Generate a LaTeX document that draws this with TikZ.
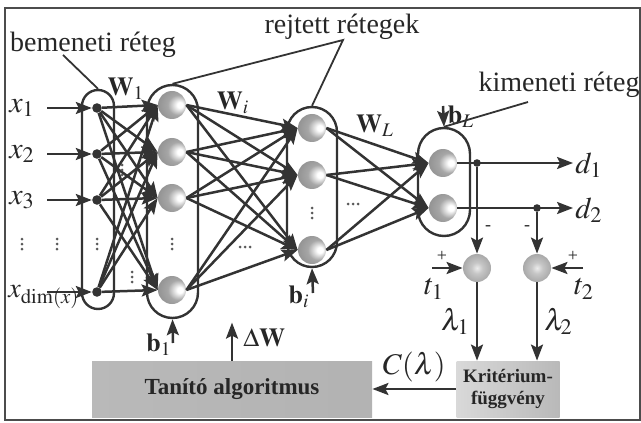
\documentclass[tikz,border=0pt]{standalone}
\usepackage{mathptmx}
\usepackage[no-math]{fontspec}
\setmainfont{Liberation Serif}
\usetikzlibrary{arrows.meta, positioning}

\pgfdeclareradialshading{neuronshade}{\pgfqpoint{16bp}{0bp}}{color(0bp)=(white); color(5bp)=(white); color(18bp)=(gray!70); color(36bp)=(gray!90); color(50bp)=(black!75)}
\pgfdeclareradialshading{sumshade}{\pgfqpoint{0bp}{0bp}}{color(0bp)=(gray!15); color(10bp)=(gray!45); color(30bp)=(gray!75); color(50bp)=(black!75)}

\newcommand{\vdotsat}[2]{\foreach \k in {-5,0,5} {\fill[black!65] (#1,#2+\k) circle (0.75pt);}}
\newcommand{\hdotsat}[2]{\foreach \k in {-5,0,5} {\fill[black!65] (#1+\k,#2) circle (0.75pt);}}

\begin{document}
\begin{tikzpicture}[
  x=0.5pt, y=-0.5pt,
  wire/.style={draw=black!80, line width=1.25pt},
  layerbox/.style={rectangle, draw=black!80, line width=1.2pt, rounded corners=#1, inner sep=0pt},
  neuron/.style={circle, shading=neuronshade, minimum size=14pt, inner sep=0pt},
  sumnode/.style={circle, shading=sumshade, minimum size=14pt, inner sep=0pt},
  indot/.style={circle, fill=black!80, minimum size=4.8pt, inner sep=0pt},
  txt/.style={font=\fontsize{14}{16}\selectfont, text=black!85, inner sep=1pt},
  mlbl/.style={font=\fontsize{15}{17}\selectfont, text=black!85, inner sep=1pt},
  wlbl/.style={font=\fontsize{13}{15}\selectfont, text=black!85, inner sep=1pt},
  sgn/.style={font=\fontsize{9}{9}\selectfont, text=black!85, inner sep=0pt},
  trainbox/.style={rectangle, shading=axis, left color=gray!55, middle color=gray!22, right color=gray!60, minimum width=140pt, minimum height=28pt, font=\bfseries\fontsize{11.5}{13}\selectfont, text=black!85},
  critbox/.style={rectangle, shading=axis, left color=gray!30, middle color=gray!25, right color=gray!55, minimum width=49pt, minimum height=28pt, align=center, font=\bfseries\fontsize{9.5}{11}\selectfont, text=black!85},
  >={Stealth[length=8pt,width=6pt,inset=1.5pt]}
]
  \useasboundingbox (0,0) rectangle (641,422);
  \draw[black!70, line width=0.8pt] (5,8) rectangle (640,420);

  % layers
  \node[layerbox=8pt, minimum width=16pt, minimum height=109.5pt] (L0) at (98,199.5) {};
  \node[layerbox=12.75pt, minimum width=25.5pt, minimum height=116.5pt] (L1) at (172.5,201.5) {};
  \node[layerbox=12.5pt, minimum width=25pt, minimum height=80pt] (L2) at (312,187) {};
  \node[layerbox=13pt, minimum width=26pt, minimum height=54pt] (L3) at (444,182) {};

  % inputs
  \foreach \y [count=\i] in {108,154,200,292} {
    \node[indot] (x\i) at (97,\y) {};
    \coordinate (in\i) at (47,\y);
    \draw[wire,->] (in\i) -- (x\i);
  }
  \node[mlbl] (lx1) at (22,108) {$x_1$};
  \node[mlbl] (lx2) at (22,154) {$x_2$};
  \node[mlbl] (lx3) at (22,200) {$x_3$};
  \node[mlbl, anchor=west, font=\fontsize{14}{16}\selectfont] (lx4) at (6,297) {$x_{\dim(x)}$};

  % neurons
  \foreach \y [count=\i] in {105,152,198,290}
    \node[neuron] (a\i) at (172,\y) {};
  \foreach \y [count=\i] in {128,175,250}
    \node[neuron] (b\i) at (312,\y) {};
  \foreach \y [count=\i] in {163,208}
    \node[neuron] (c\i) at (443,\y) {};

  % weights
  \foreach \i in {1,...,4}
    \foreach \j in {1,...,4}
      \draw[wire,->] (x\i) -- (a\j.west);
  \foreach \i in {1,...,4}
    \foreach \j in {1,...,3}
      \draw[wire,->] (a\i.east) -- (b\j.west);
  \foreach \i in {1,...,3}
    \foreach \j in {1,...,2}
      \draw[wire,->] (b\i.east) -- (c\j.west);

  % dots
  \foreach \x in {22,57,97,172} {\vdotsat{\x}{244}}
  \vdotsat{122}{170}
  \vdotsat{132}{277}
  \vdotsat{312}{213}
  \hdotsat{245}{247}
  \hdotsat{353}{204}

  \node[wlbl] (w1) at (126,89) {$\mathbf{W}_1$};
  \node[wlbl] (wi) at (233,103) {$\mathbf{W}_i$};
  \node[wlbl] (wl) at (375,126) {$\mathbf{W}_L$};

  % outputs
  \node[mlbl] (ld1) at (589,165) {$d_1$};
  \node[mlbl] (ld2) at (589,210) {$d_2$};
  \draw[wire,->] (c1.east) -- (c1 -| ld1.west);
  \draw[wire,->] (c2.east) -- (c2 -| ld2.west);
  \node[indot, minimum size=3.8pt] (j1) at (477,163) {};
  \node[indot, minimum size=3.8pt] (j2) at (537,208) {};

  \node[sumnode] (s1) at (477,268) {};
  \node[sumnode] (s2) at (537,268) {};
  \draw[wire,->] (j1) -- (s1);
  \draw[wire,->] (j2) -- (s2);
  \node[sgn] at (488,228) {-};
  \node[sgn] at (527,228) {-};

  \coordinate (t1in) at (432,268);
  \coordinate (t2in) at (583,268);
  \draw[wire,->] (t1in) -- (s1);
  \draw[wire,->] (t2in) -- (s2);
  \node[sgn] at (442,256) {+};
  \node[sgn] at (573,256) {+};
  \node[mlbl, inner sep=0pt] (lt1) at (434,289) {$t_1$};
  \node[mlbl, inner sep=0pt] (lt2) at (584,289) {$t_2$};

  % training
  \node[critbox] (K) at (508,389) {Kritérium-\\függvény};
  \node[trainbox] (T) at (232,389) {Tanító algoritmus};
  \draw[wire,->] (s1) -- (s1 |- K.north) node[mlbl, inner sep=0pt, pos=0.5, left=3pt] {$\lambda_1$};
  \draw[wire,->] (s2) -- (s2 |- K.north) node[mlbl, inner sep=0pt, pos=0.5, right=3pt] {$\lambda_2$};
  \draw[wire,->] (K.west) -- (T.east) node[mlbl, midway, above=2pt] {$C(\lambda)$};
  \draw[wire,->] (T.north) -- ++(0,-38) node[wlbl, pos=0.6, right=4pt] {$\Delta\mathbf{W}$};

  % biases
  \coordinate (b1in) at (173,343);
  \coordinate (biin) at (313,293);
  \coordinate (blin) at (443,106);
  \draw[wire,->] (b1in) -- (L1.south);
  \draw[wire,->] (biin) -- (L2.south);
  \draw[wire,->] (blin) -- (L3.north);
  \node[wlbl] (lb1) at (159,345) {$\mathbf{b}_1$};
  \node[wlbl] (lbi) at (299,297) {$\mathbf{b}_i$};
  \node[wlbl] (lbl) at (461,117) {$\mathbf{b}_L$};

  % layer names
  \node[txt] (tin) at (93,45) {bemeneti réteg};
  \node[txt] (thid) at (342,27) {rejtett rétegek};
  \node[txt] (tout) at (559,85) {kimeneti réteg};
  \coordinate (pin) at (63,55);
  \coordinate (phid) at (343,40);
  \coordinate (pout) at (528,102);
  \draw[wire, line width=0.9pt] (pin) -- (L0.north);
  \draw[wire, line width=0.9pt] (L1.north) -- (phid) -- (L2.north);
  \draw[wire, line width=0.9pt] (pout) -- (L3.north);
\end{tikzpicture}
\end{document}
